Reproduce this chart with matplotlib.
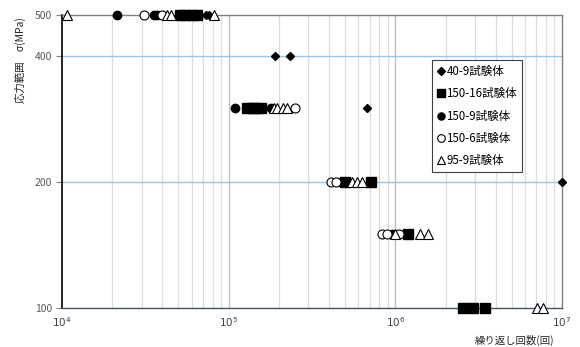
import matplotlib.pyplot as plt
from matplotlib.ticker import FixedLocator, NullFormatter, NullLocator

plt.rcParams['font.family'] = ['Noto Sans CJK JP', 'DejaVu Sans']

# 疲労試験結果 (繰り返し回数, 応力範囲 MPa)
n_40_9 = [7.3e4, 7.6e4, 1.9e5, 2.33e5, 6.76e5, 1.0e7]
s_40_9 = [500, 500, 400, 400, 300, 200]

n_150_16 = [5.1e4, 5.47e4, 6.03e4, 6.46e4, 1.29e5, 1.38e5, 1.46e5, 1.56e5,
            4.99e5, 7.15e5, 1.19e6, 2.55e6, 2.92e6, 3.45e6]
s_150_16 = [500, 500, 500, 500, 300, 300, 300, 300, 200, 200, 150, 100, 100, 100]

n_150_9 = [2.14e4, 3.57e4, 3.72e4, 1.09e5, 1.8e5, 4.72e5, 5.2e5, 9.55e5]
s_150_9 = [500, 500, 500, 300, 300, 200, 200, 150]

n_150_6 = [3.1e4, 3.98e4, 2.5e5, 4.11e5, 4.4e5, 8.32e5, 8.9e5, 1.05e6]
s_150_6 = [500, 500, 300, 200, 200, 150, 150, 150]

n_95_9 = [1.07e4, 4.27e4, 4.5e4, 8.15e4, 1.86e5, 1.95e5, 2.12e5, 2.24e5,
          5.5e5, 5.9e5, 6.3e5, 9.96e5, 1.41e6, 1.57e6, 7.08e6, 7.7e6]
s_95_9 = [500, 500, 500, 500, 300, 300, 300, 300,
          200, 200, 200, 150, 150, 150, 100, 100]

labels = ['40-9試験体', '150-16試験体', '150-9試験体', '150-6試験体', '95-9試験体']
y_ticks = [100, 200, 400, 500]
x_ticks = [1e4, 1e5, 1e6, 1e7]
x_tick_labels = ['$10^4$', '$10^5$', '$10^6$', '$10^7$']

fig = plt.figure(figsize=(5.8, 3.47), dpi=100)
ax = fig.add_axes([62 / 580, 1 - 308 / 347, 500 / 580, 293 / 347])
ax.set_xscale('log')
ax.set_yscale('log')
ax.set_xlim(1e4, 1e7)
ax.set_ylim(100, 500)

# grid: light gray verticals, light blue horizontals
for dec in [1e4, 1e5, 1e6]:
    for m in range(2, 10):
        ax.axvline(dec * m, color='#dcdcdc', lw=0.9, zorder=0)
for v in [1e5, 1e6]:
    ax.axvline(v, color='#bfbfbf', lw=1.0, zorder=0)
for v in [200, 400]:
    ax.axhline(v, color='#9dc3e6', lw=1.0, zorder=0)

kw = dict(linestyle='none', clip_on=False, zorder=3)
ax.plot(n_40_9, s_40_9, marker='D', ms=4.5, mfc='black', mec='black', label=labels[0], **kw)
ax.plot(n_150_16, s_150_16, marker='s', ms=6.5, mfc='black', mec='black', label=labels[1], **kw)
ax.plot(n_150_9, s_150_9, marker='o', ms=6, mfc='black', mec='black', label=labels[2], **kw)
ax.plot(n_150_6, s_150_6, marker='o', ms=6.5, mfc='white', mec='black', mew=0.8, label=labels[3], **kw)
ax.plot(n_95_9, s_95_9, marker='^', ms=7, mfc='white', mec='black', mew=0.8, label=labels[4], **kw)

ax.yaxis.set_major_locator(FixedLocator(y_ticks))
ax.yaxis.set_minor_locator(NullLocator())
ax.yaxis.set_minor_formatter(NullFormatter())
ax.set_yticklabels([str(t) for t in y_ticks])
ax.xaxis.set_major_locator(FixedLocator(x_ticks))
ax.xaxis.set_minor_locator(NullLocator())
ax.xaxis.set_minor_formatter(NullFormatter())
ax.set_xticklabels(x_tick_labels)
ax.tick_params(axis='y', length=4, width=0.8, color='#808080', labelsize=7.5,
               labelcolor='#595959', pad=3)
ax.tick_params(axis='x', length=0, labelsize=7.5, labelcolor='#404040', pad=5)

ax.spines['left'].set_color('black')
ax.spines['left'].set_linewidth(1.2)
ax.spines['bottom'].set_color('#44546a')
ax.spines['bottom'].set_linewidth(1.0)
for s in ['top', 'right']:
    ax.spines[s].set_color('#808080')
    ax.spines[s].set_linewidth(1.0)

fig.text(20 / 580, 1 - 60 / 347, '応力範囲　σ(MPa)', rotation=90,
         ha='center', va='center', fontsize=7.5, color='#262626')
fig.text(515 / 580, 1 - 340 / 347, '繰り返し回数(回)', ha='center', va='center',
         fontsize=7.5, color='#262626')

leg = ax.legend(loc='upper left', bbox_to_anchor=(432 / 580, 1 - 60 / 347),
                bbox_transform=fig.transFigure, fontsize=8.3, frameon=True,
                fancybox=False, edgecolor='#404040', framealpha=1,
                handlelength=0.6, handletextpad=0.2, labelspacing=0.8,
                borderpad=0.45, borderaxespad=0, markerscale=0.85)
leg.get_frame().set_linewidth(0.8)

fig.savefig('out.png', dpi=100)
